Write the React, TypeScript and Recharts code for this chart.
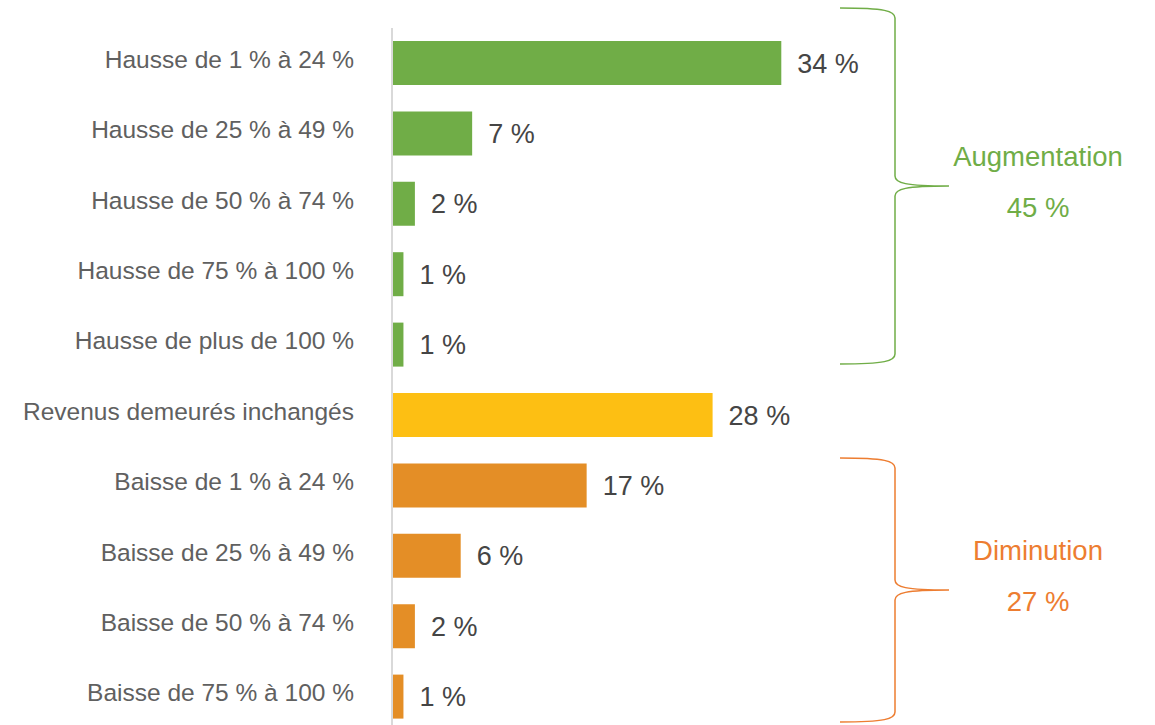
import { BarChart, Bar, XAxis, YAxis, Cell, LabelList } from 'recharts'

const categories = [
  'Hausse de 1 % à 24 %',
  'Hausse de 25 % à 49 %',
  'Hausse de 50 % à 74 %',
  'Hausse de 75 % à 100 %',
  'Hausse de plus de 100 %',
  'Revenus demeurés inchangés',
  'Baisse de 1 % à 24 %',
  'Baisse de 25 % à 49 %',
  'Baisse de 50 % à 74 %',
  'Baisse de 75 % à 100 %',
]
const values = [34, 7, 2, 1, 1, 28, 17, 6, 2, 1]
const groups = ['up', 'up', 'up', 'up', 'up', 'same', 'down', 'down', 'down', 'down']
const totals = [
  { label: 'Augmentation', value: 45 },
  { label: 'Diminution', value: 27 },
]

const barColor: Record<string, string> = {
  up: '#70AD47',
  same: '#FDBF13',
  down: '#E48E26',
}
const FONT = '"Liberation Sans", Arial, sans-serif'

const data = categories.map((name, i) => ({ name, value: values[i], group: groups[i] }))

// curly brace opening to the right, tip pointing right
function bracePath(x: number, tipX: number, top: number, bottom: number, tipY: number) {
  const left = x - 55
  return [
    `M ${left} ${top}`,
    `C ${x - 10} ${top} ${x} ${top + 3} ${x} ${top + 10}`,
    `L ${x} ${tipY - 10}`,
    `C ${x} ${tipY - 3} ${x + 10} ${tipY} ${tipX} ${tipY}`,
    `C ${x + 10} ${tipY} ${x} ${tipY + 3} ${x} ${tipY + 10}`,
    `L ${x} ${bottom - 10}`,
    `C ${x} ${bottom - 3} ${x - 10} ${bottom} ${left} ${bottom}`,
  ].join(' ')
}

const braces = [
  { top: 8, bottom: 364, tipY: 186, labelY: 156, valueY: 207, color: '#70AD47' },
  { top: 458, bottom: 722, tipY: 590, labelY: 550, valueY: 601, color: '#ED7D31' },
]

const CategoryTick = (props: any) => {
  const { x, y, payload } = props
  return (
    <text x={x} y={y - 4} textAnchor="end" dominantBaseline="central" fill="#606060" fontSize={24.5} fontFamily={FONT}>
      {payload.value}
    </text>
  )
}

export default function App() {
  return (
    <div style={{ position: 'absolute', left: 0, top: 0, width: 1155, height: 725, overflow: 'hidden', background: '#fff' }}>
      <BarChart
        width={1155}
        height={732}
        data={data}
        layout="vertical"
        margin={{ top: 28, right: 305, bottom: 0, left: 0 }}
        barSize={44}
      >
        <XAxis type="number" domain={[0, 40]} hide />
        <YAxis
          type="category"
          dataKey="name"
          width={392}
          tickLine={false}
          tickSize={0}
          tickMargin={38}
          axisLine={{ stroke: '#D9D9D9', strokeWidth: 2 }}
          tick={<CategoryTick />}
          interval={0}
        />
        <Bar dataKey="value" isAnimationActive={false}>
          {data.map((d) => (
            <Cell key={d.name} fill={barColor[d.group]} />
          ))}
          <LabelList
            dataKey="value"
            position="right"
            offset={16}
            formatter={(v: any) => `${v} %`}
            style={{ fill: '#454545', fontSize: 27, fontFamily: FONT }}
          />
        </Bar>
      </BarChart>
      <svg width={1155} height={725} style={{ position: 'absolute', left: 0, top: 0, pointerEvents: 'none' }}>
        {braces.map((b, i) => (
          <g key={i}>
            <path d={bracePath(895, 949, b.top, b.bottom, b.tipY)} fill="none" stroke={b.color} strokeWidth={1.5} />
            <text x={1038} y={b.labelY} textAnchor="middle" dominantBaseline="central" fill={b.color} fontSize={27.5} fontFamily={FONT}>
              {totals[i].label}
            </text>
            <text x={1038} y={b.valueY} textAnchor="middle" dominantBaseline="central" fill={b.color} fontSize={27.5} fontFamily={FONT}>
              {`${totals[i].value} %`}
            </text>
          </g>
        ))}
      </svg>
    </div>
  )
}
